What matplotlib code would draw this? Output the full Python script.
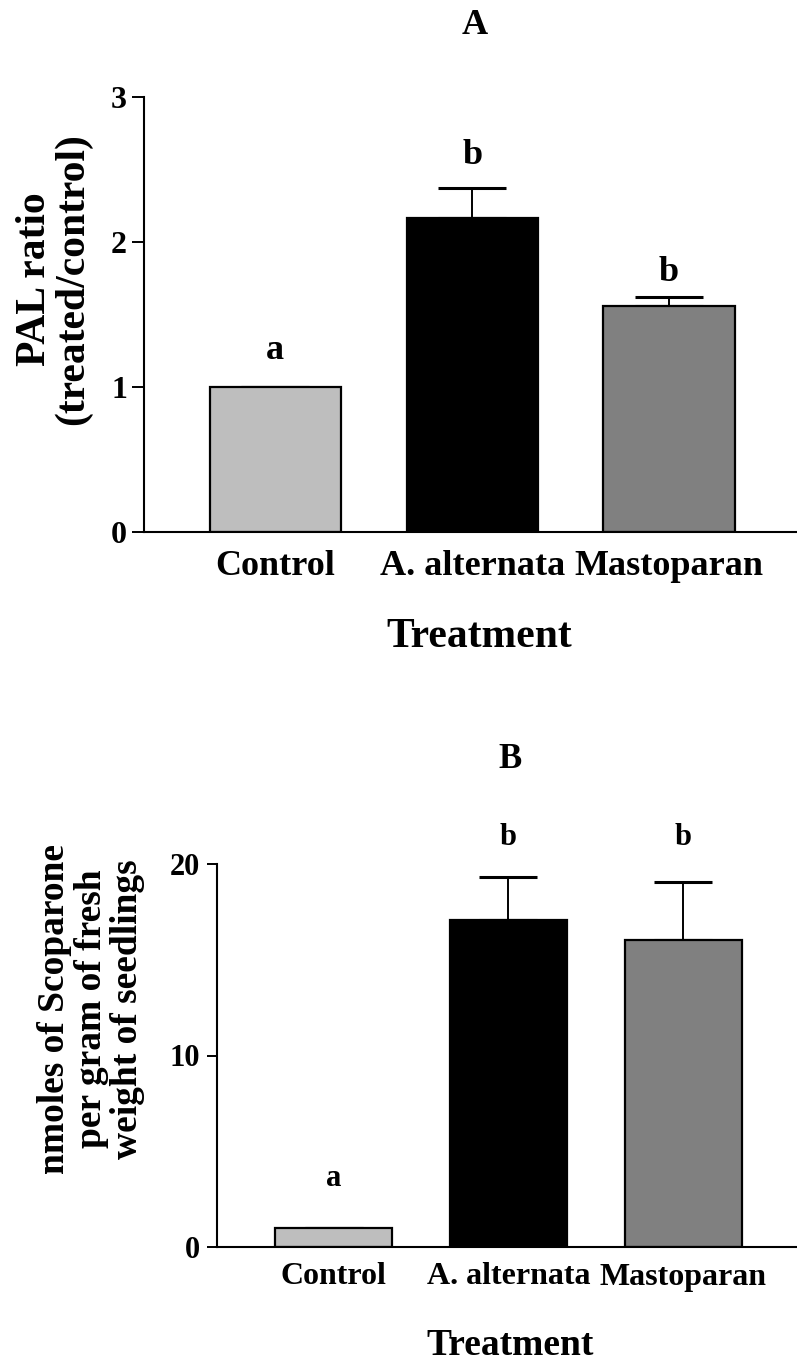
import matplotlib.pyplot as plt
import numpy as np

plt.rcParams['font.family'] = ['Liberation Serif', 'DejaVu Serif']
plt.rcParams['font.weight'] = 'bold'

treatments = ["Control", "A. alternata", "Mastoparan"]
bar_colors = ["#bebebe", "#000000", "#808080"]

# panel A: PAL ratio
pal_mean = [1.0, 2.166, 1.559]
pal_err = [0.0, 0.206, 0.063]
pal_letters = ["a", "b", "b"]
pal_letter_y = [1.255, 2.60, 1.79]

# panel B: scoparone
scop_mean = [1.0, 17.07, 16.03]
scop_err = [0.0, 2.25, 3.03]
scop_letters = ["a", "b", "b"]
scop_letter_y = [3.6, 21.4, 21.4]

W, H = 797, 1360
fig = plt.figure(figsize=(W / 100, H / 100), dpi=100)


def panel(rect, means, errs, letters, letter_y, ylim, yticks, capsize,
          ticksize, xticksize, xpad, ylabel, ylabsize, ylab_xy, xlab_xy,
          letsize, linesp, ticklen, ypad):
    ax = fig.add_axes(rect)
    x = np.arange(len(means))
    ax.bar(x, means, width=0.667, color=bar_colors, edgecolor="black",
           linewidth=1.6, zorder=2)
    ax.errorbar(x, means, yerr=[np.zeros(len(errs)), errs], fmt="none",
                ecolor="black", elinewidth=1.4, capsize=capsize, capthick=2.2,
                zorder=1)
    for xi, t, yy in zip(x, letters, letter_y):
        ax.text(xi, yy, t, ha="center", va="center", fontsize=letsize,
                fontweight="bold", clip_on=False)
    ax.set_xlim(-0.667, 2.65)
    ax.set_ylim(*ylim)
    ax.set_yticks(yticks)
    ax.set_yticklabels([str(v) for v in yticks], fontsize=ticksize,
                       fontweight="bold")
    ax.set_xticks(x)
    ax.set_xticklabels(treatments, fontsize=xticksize, fontweight="bold",
                       va="center")
    ax.tick_params(axis="x", length=0, pad=xpad)
    ax.tick_params(axis="y", length=ticklen, width=1.4, pad=ypad)
    for s in ["top", "right"]:
        ax.spines[s].set_visible(False)
    for s in ["left", "bottom"]:
        ax.spines[s].set_linewidth(1.5)
    ax.set_ylabel(ylabel, fontsize=ylabsize, fontweight="bold", va="center",
                  ha="center", linespacing=linesp)
    ax.yaxis.set_label_coords(*ylab_xy)
    ax.set_xlabel("Treatment", fontsize=xticksize + 4, fontweight="bold",
                  va="center")
    ax.xaxis.set_label_coords(*xlab_xy)
    return ax


axA = panel([144 / W, 1 - 532 / H, 653 / W, 435 / H], pal_mean, pal_err,
            pal_letters, pal_letter_y, (0, 3), [0, 1, 2, 3], 24.5,
            23, 26, 25, "PAL ratio\n(treated/control)", 30,
            (-0.138, 0.582), (0.513, -0.241), 26, 1.0, 8.6, 3.6)

axB = panel([217 / W, 1 - 1247 / H, 580 / W, 383 / H], scop_mean, scop_err,
            scop_letters, scop_letter_y, (0, 20), [0, 10, 20], 21,
            22, 23, 21.6,
            "nmoles of Scoparone\nper gram of fresh\nweight of seedlings", 27,
            (-0.217, 0.621), (0.505, -0.256), 22, 1.05, 7.2, 5)

fig.text(475 / W, 1 - 25 / H, "A", ha="center", va="center", fontsize=26,
         fontweight="bold")
fig.text(510 / W, 1 - 760 / H, "B", ha="center", va="center", fontsize=25,
         fontweight="bold")

fig.savefig("out.png", dpi=100)
